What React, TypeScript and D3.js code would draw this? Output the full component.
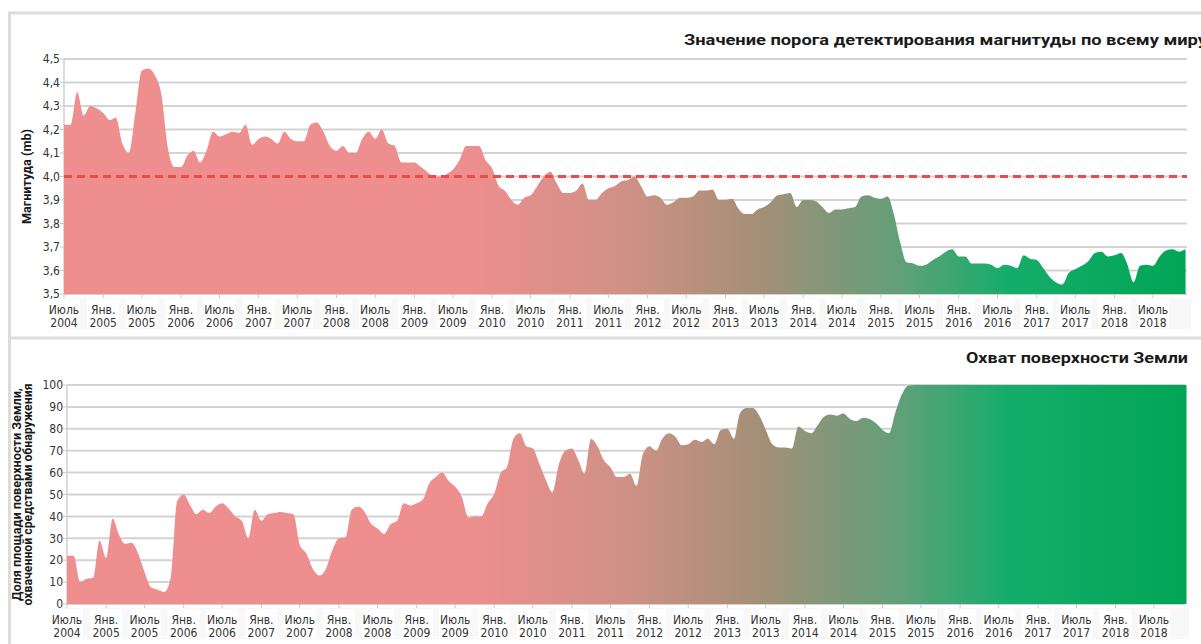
import React from 'react';
import * as d3 from 'd3';

// monthly values, starting July 2004
const START = new Date(2004, 6, 1);

const magnitude = [
  4.22, 4.22, 4.36, 4.26, 4.30, 4.29, 4.27, 4.24, 4.25, 4.14, 4.10, 4.27,
  4.45, 4.46, 4.43, 4.35, 4.12, 4.04, 4.04, 4.09, 4.11, 4.06, 4.11, 4.19,
  4.17, 4.18, 4.19, 4.185, 4.22, 4.135, 4.16, 4.17, 4.16, 4.14, 4.19, 4.16,
  4.15, 4.15, 4.22, 4.23, 4.19, 4.13, 4.11, 4.13, 4.10, 4.10, 4.16, 4.19,
  4.16, 4.20, 4.14, 4.13, 4.06, 4.06, 4.06, 4.04, 4.02, 4.00, 4.00, 4.01,
  4.03, 4.07, 4.13, 4.13, 4.13, 4.07, 4.035, 3.96, 3.94, 3.90, 3.88, 3.91,
  3.92, 3.96, 4.00, 4.02, 3.97, 3.93, 3.93, 3.94, 3.97, 3.90, 3.90, 3.93,
  3.95, 3.96, 3.98, 3.985, 4.00, 3.96, 3.915, 3.92, 3.91, 3.88, 3.89, 3.91,
  3.91, 3.915, 3.94, 3.94, 3.945, 3.90, 3.90, 3.905, 3.865, 3.84, 3.84, 3.86,
  3.87, 3.89, 3.92, 3.925, 3.93, 3.87, 3.90, 3.90, 3.895, 3.87, 3.845, 3.86,
  3.86, 3.865, 3.87, 3.915, 3.92, 3.91, 3.905, 3.915, 3.845, 3.72, 3.635, 3.63,
  3.62, 3.625, 3.645, 3.66, 3.68, 3.69, 3.66, 3.66, 3.63, 3.63, 3.63, 3.625,
  3.61, 3.625, 3.62, 3.61, 3.665, 3.65, 3.645, 3.61, 3.575, 3.55, 3.54, 3.59,
  3.605, 3.62, 3.64, 3.675, 3.68, 3.66, 3.665, 3.675, 3.63, 3.55, 3.62, 3.625,
  3.62, 3.66, 3.685, 3.69, 3.68, 3.69,
];

const coverage = [
  22, 22, 10, 11.5, 12, 29, 21, 39, 32, 27.5, 28, 23,
  14.5, 7.5, 6.5, 5.5, 12, 47, 50, 45, 41, 43, 41.5, 44.5,
  46, 43.5, 40, 38, 30, 43, 38, 41, 41.5, 42, 41.5, 41,
  27, 23, 16, 13, 16, 24.5, 30, 30.5, 43, 44.5, 42, 36.5,
  34.5, 32, 36.5, 38, 46, 45, 46, 48, 55, 58, 60, 56,
  53.5, 49, 39.5, 40, 40, 46, 50.5, 60, 62.5, 75.5, 78, 72,
  71, 64, 56.5, 51, 64, 70, 71, 65.5, 59.5, 75.5, 72, 65.5,
  62.5, 58, 58, 59.5, 54, 68.5, 72, 70, 75.5, 78, 76.5, 72.5,
  73, 75, 74, 75.5, 73, 79.5, 80, 75.5, 87, 89.5, 89.5, 86,
  79.5, 73, 71.5, 71.5, 71, 81, 79, 78, 81.5, 85.5, 86.5, 86,
  87, 84.5, 83.5, 85, 84.5, 82.5, 79.5, 78, 87, 95.5, 99.7, 100,
  100, 100, 100, 100, 100, 100, 100, 100, 100, 100, 100, 100,
  100, 100, 100, 100, 100, 100, 100, 100, 100, 100, 100, 100,
  100, 100, 100, 100, 100, 100, 100, 100, 100, 100, 100, 100,
  100, 100, 100, 100, 100, 100,
];

const magTicks = [3.5, 3.6, 3.7, 3.8, 3.9, 4.0, 4.1, 4.2, 4.3, 4.4, 4.5];
const covTicks = [0, 10, 20, 30, 40, 50, 60, 70, 80, 90, 100];
const threshold = 4.0;
const monthNames = { 0: 'Янв.', 6: 'Июль' };

const magTitle = 'Значение порога детектирования магнитуды по всему миру';
const covTitle = 'Охват поверхности Земли';
const magAxisTitle = ['Магнитуда (mb)'];
const covAxisTitle = ['Доля площади поверхности Земли,', 'охваченной средствами обнаружения'];

const NARROW = '"Liberation Sans Narrow", "DejaVu Sans Condensed", "Roboto", sans-serif';
const BOLD = 'Roboto, "DejaVu Sans", sans-serif';

const gradStops = [
  [0, '#ee8e8e'],
  [0.36, '#ee8e8e'],
  [0.5, '#cf9185'],
  [0.62, '#a48f78'],
  [0.75, '#5fa079'],
  [0.84, '#16ad6c'],
  [1, '#00a555'],
];

function Panel({ id, data, yDomain, yTicks, yFmt, top, bottom, left, xEnd, right,
  title, titleX, titleY, titleAnchor, titleLen, axisTitle, axisTitleX, axisTitleLens, threshold }) {
  const x = d3.scaleTime()
    .domain([START, new Date(2018, 6, 1)])
    .range([left, xEnd]);
  const y = d3.scaleLinear().domain(yDomain).range([bottom, top]);
  const date = (i) => d3.timeMonth.offset(START, i);

  const area = d3.area()
    .x((d, i) => x(date(i)))
    .y0(y(yDomain[0]))
    .y1(d => y(d))
    .curve(d3.curveMonotoneX);

  const xTicks = d3.timeMonths(START, new Date(2018, 7, 1), 6);
  const midY = (top + bottom) / 2;

  return (
    <g>
      <defs>
        <linearGradient id={id} gradientUnits="userSpaceOnUse" x1={left} x2={right} y1={0} y2={0}>
          {gradStops.map(([o, c], i) => <stop key={i} offset={o} stopColor={c} />)}
        </linearGradient>
      </defs>
      <text x={titleX} y={titleY} textAnchor={titleAnchor} fontFamily={BOLD} fontWeight={700}
        fontSize={15} fill="#1a1a1a" textLength={titleLen} lengthAdjust="spacingAndGlyphs">{title}</text>

      {/* label band */}
      <rect x={left - 14} y={bottom + 4} width={right - left + 20} height={31} fill="#f8f8f8" />
      {xTicks.map((t, i) => (
        <rect key={i} x={x(t) - 16} y={bottom + 5} width={32} height={29} fill="#fff" />
      ))}

      {yTicks.map((t, i) => (
        <g key={i}>
          <line x1={left} x2={right + 2} y1={y(t)} y2={y(t)} stroke="#d3d3d3" strokeWidth={2} />
          <line x1={left - 4} x2={left} y1={y(t)} y2={y(t)} stroke="#c8c8c8" strokeWidth={1} />
          <text x={left - 4} y={y(t)} dy="0.35em" textAnchor="end" fontFamily={NARROW}
            fontSize={12} fill="#333">{yFmt(t)}</text>
        </g>
      ))}
      <line x1={left} x2={left} y1={top} y2={bottom} stroke="#d0d0d0" strokeWidth={1.5} />

      <path d={area(data)} fill={`url(#${id})`} />

      {threshold != null && (
        <line x1={left} x2={right + 2} y1={y(threshold)} y2={y(threshold)} stroke="#ef4a45"
          strokeWidth={3} strokeDasharray="8 5" />
      )}

      {xTicks.map((t, i) => (
        <g key={i}>
          <line x1={x(t)} x2={x(t)} y1={bottom} y2={bottom + 4} stroke="#c8c8c8" />
          <text x={x(t)} y={bottom + 20} textAnchor="middle" fontFamily={NARROW} fontSize={12} fill="#333">
            {monthNames[t.getMonth()]}
          </text>
          <text x={x(t)} y={bottom + 33} textAnchor="middle" fontFamily={NARROW} fontSize={12} fill="#333">
            {t.getFullYear()}
          </text>
        </g>
      ))}

      {axisTitle.map((s, i) => (
        <text key={i} transform={`translate(${axisTitleX[i]},${midY}) rotate(-90)`} textAnchor="middle"
          fontFamily={BOLD} fontWeight={700} fontSize={12} fill="#1a1a1a"
          textLength={axisTitleLens[i]} lengthAdjust="spacingAndGlyphs">{s}</text>
      ))}
    </g>
  );
}

export default function App() {
  const comma = (v) => d3.format('.1f')(v).replace('.', ',');
  return (
    <div style={{ position: 'absolute', left: 0, top: 0 }}>
      <svg width={1201} height={644} style={{ display: 'block', background: '#fff' }}>
        {/* frame */}
        <line x1={8} x2={1201} y1={13} y2={13} stroke="#dcdcdc" strokeWidth={3} />
        <line x1={9.5} x2={9.5} y1={12} y2={644} stroke="#dcdcdc" strokeWidth={3} />
        <line x1={8} x2={1201} y1={338} y2={338} stroke="#dcdcdc" strokeWidth={3} />

        <Panel id="gTop" data={magnitude} yDomain={[3.5, 4.5]} yTicks={magTicks} yFmt={comma}
          top={59} bottom={294} left={64} xEnd={1153} right={1185}
          title={magTitle} titleX={684} titleY={45} titleAnchor="start" titleLen={523}
          axisTitle={magAxisTitle} axisTitleX={[31]} axisTitleLens={[95]} threshold={threshold} />

        <Panel id="gBot" data={coverage} yDomain={[0, 100]} yTicks={covTicks} yFmt={(v) => String(v)}
          top={385} bottom={604} left={67} xEnd={1154} right={1183}
          title={covTitle} titleX={1188} titleY={363} titleAnchor="end" titleLen={222}
          axisTitle={covAxisTitle} axisTitleX={[21, 32]} axisTitleLens={[213, 222]} threshold={null} />
      </svg>
    </div>
  );
}
